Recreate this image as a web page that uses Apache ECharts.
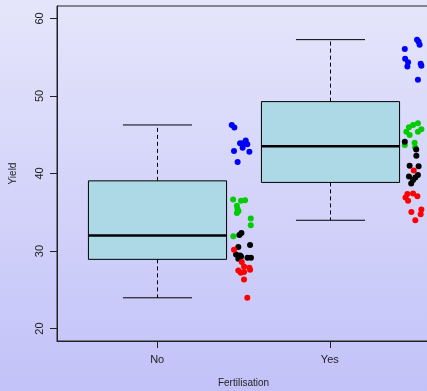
<!DOCTYPE html>
<html>
<head>
<meta charset="utf-8">
<script src="https://cdn.jsdelivr.net/npm/echarts@6/dist/echarts.min.js"></script>
<style>
  html, body { margin: 0; padding: 0; }
  body {
    width: 427px; height: 391px; overflow: hidden;
    background: linear-gradient(to bottom, #e5e5fb 0%, #c2c2f9 100%);
  }
  #chart { width: 427px; height: 391px; }
</style>
</head>
<body>
<div id="chart"></div>
<script>
// Fertilisation levels (positions 1 and 2 on the x axis)
const categories = ['No', 'Yes'];
const yTicks = [20, 30, 40, 50, 60];

// Box summaries per level: [min, Q1, median, Q3, max]
const boxNo  = [23.97, 28.93, 32.0, 39.05, 46.26];
const boxYes = [33.97, 38.85, 43.5, 49.27, 57.26];

// Jittered observations, one array pair per group: x position, yield
const blueX  = [1.432, 1.447, 1.513, 1.480, 1.522, 1.495, 1.445, 1.534, 1.466, 1.497,
                2.505, 2.514, 2.520, 2.434, 2.436, 2.453, 2.449, 2.526, 2.530, 2.510];
const blueY  = [46.26, 45.94, 44.26, 43.90, 43.77, 43.33, 42.90, 42.80, 41.47, 43.90,
                57.26, 57.00, 56.60, 56.05, 54.80, 54.35, 53.80, 54.15, 53.90, 52.08];
const greenX = [1.440, 1.486, 1.509, 1.462, 1.465, 1.471, 1.462, 1.542, 1.542, 1.441,
                2.510, 2.482, 2.458, 2.530, 2.443, 2.510, 2.462, 2.491, 2.434, 2.494];
const greenY = [36.65, 36.47, 36.56, 35.84, 35.45, 35.17, 34.90, 34.19, 33.32, 31.90,
                46.48, 46.26, 45.96, 45.70, 45.40, 45.40, 44.97, 43.98, 43.67, 43.38];
const blackX = [1.476, 1.488, 1.470, 1.538, 1.457, 1.470, 1.523, 1.543, 1.486, 1.480,
                2.434, 2.500, 2.501, 2.462, 2.514, 2.458, 2.495, 2.510, 2.482, 2.471];
const blackY = [32.07, 32.33, 30.52, 30.78, 29.57, 29.02, 29.15, 29.15, 29.30, 29.44,
                44.10, 43.10, 42.30, 41.00, 40.93, 39.60, 39.50, 39.80, 39.15, 38.72];
const redX   = [1.445, 1.490, 1.503, 1.534, 1.538, 1.484, 1.503, 1.470, 1.503, 1.522,
                2.486, 2.449, 2.482, 2.507, 2.438, 2.453, 2.472, 2.530, 2.526, 2.495];
const redY   = [30.18, 28.58, 28.02, 27.85, 27.60, 27.20, 27.30, 27.50, 26.34, 23.97,
                40.40, 37.35, 37.43, 37.08, 36.90, 36.47, 35.05, 35.36, 34.75, 33.97];

const zip = (xs, ys) => xs.map((x, i) => [x, ys[i]]);
const boxData = [[1].concat(boxNo), [2].concat(boxYes)];

function renderBox(params, api) {
  const x = api.value(0);
  const lo = api.coord([x, api.value(1)]);
  const q1 = api.coord([x, api.value(2)]);
  const md = api.coord([x, api.value(3)]);
  const q3 = api.coord([x, api.value(4)]);
  const hi = api.coord([x, api.value(5)]);
  const w = api.size([0.8, 0])[0];
  const cx = Math.round(q1[0]) + 0.5;
  const half = w / 2, capHalf = w / 4;
  const line = (x1, y1, x2, y2, style) => ({
    type: 'line',
    shape: { x1: x1, y1: y1, x2: x2, y2: y2 },
    style: Object.assign({ stroke: '#000', lineWidth: 1 }, style || {})
  });
  return {
    type: 'group',
    children: [
      line(cx, q3[1], cx, hi[1], { lineDash: [4, 3] }),
      line(cx, q1[1], cx, lo[1], { lineDash: [4, 3] }),
      line(cx - capHalf, hi[1], cx + capHalf, hi[1]),
      line(cx - capHalf, lo[1], cx + capHalf, lo[1]),
      {
        type: 'rect',
        shape: { x: cx - half, y: q3[1], width: w, height: q1[1] - q3[1] },
        style: { fill: '#add8e6', stroke: '#000', lineWidth: 1 }
      },
      line(cx - half, md[1], cx + half, md[1], { lineWidth: 2.5 })
    ]
  };
}

const chart = echarts.init(document.getElementById('chart'), null, { renderer: 'canvas' });
const font = 'Liberation Sans, Arial, sans-serif';

chart.setOption({
  backgroundColor: 'transparent',
  animation: false,
  grid: {
    left: 57, top: 6, width: 373, height: 335,
    outerBoundsMode: 'none', containLabel: false,
    show: true, borderColor: '#222', borderWidth: 1, backgroundColor: 'transparent'
  },
  xAxis: {
    type: 'value', min: 0.42, max: 2.58,
    name: 'Fertilisation', nameLocation: 'middle', nameGap: 37,
    nameTextStyle: { fontFamily: font, fontSize: 10, color: '#222' },
    splitLine: { show: false },
    axisLine: { show: true, onZero: false, lineStyle: { color: '#222', width: 1 } },
    axisTick: { show: true, length: 7, customValues: [1, 2], lineStyle: { color: '#222' } },
    axisLabel: {
      customValues: [1, 2], margin: 13,
      formatter: v => categories[Math.round(v) - 1] || '',
      fontFamily: font, fontSize: 11, color: '#222'
    }
  },
  yAxis: {
    type: 'value', min: 18.4, max: 61.6,
    name: 'Yield', nameLocation: 'middle', nameGap: 39, nameRotate: 90,
    nameTextStyle: { fontFamily: font, fontSize: 10, color: '#222' },
    splitLine: { show: false },
    axisLine: { show: true, onZero: false, lineStyle: { color: '#222', width: 1 } },
    axisTick: { show: true, length: 7, customValues: yTicks, lineStyle: { color: '#222' } },
    axisLabel: {
      customValues: yTicks, rotate: 90, margin: 12,
      fontFamily: font, fontSize: 11, color: '#222'
    }
  },
  series: [
    { type: 'custom', renderItem: renderBox, data: boxData, clip: false, z: 1 },
    { type: 'scatter', data: zip(blueX, blueY), symbolSize: 6, itemStyle: { color: '#0000ff', opacity: 1 }, z: 2 },
    { type: 'scatter', data: zip(greenX, greenY), symbolSize: 6, itemStyle: { color: '#00cd00', opacity: 1 }, z: 2 },
    { type: 'scatter', data: zip(blackX, blackY), symbolSize: 6, itemStyle: { color: '#000000', opacity: 1 }, z: 2 },
    { type: 'scatter', data: zip(redX, redY), symbolSize: 6, itemStyle: { color: '#ff0000', opacity: 1 }, z: 2 }
  ]
});
</script>
</body>
</html>
